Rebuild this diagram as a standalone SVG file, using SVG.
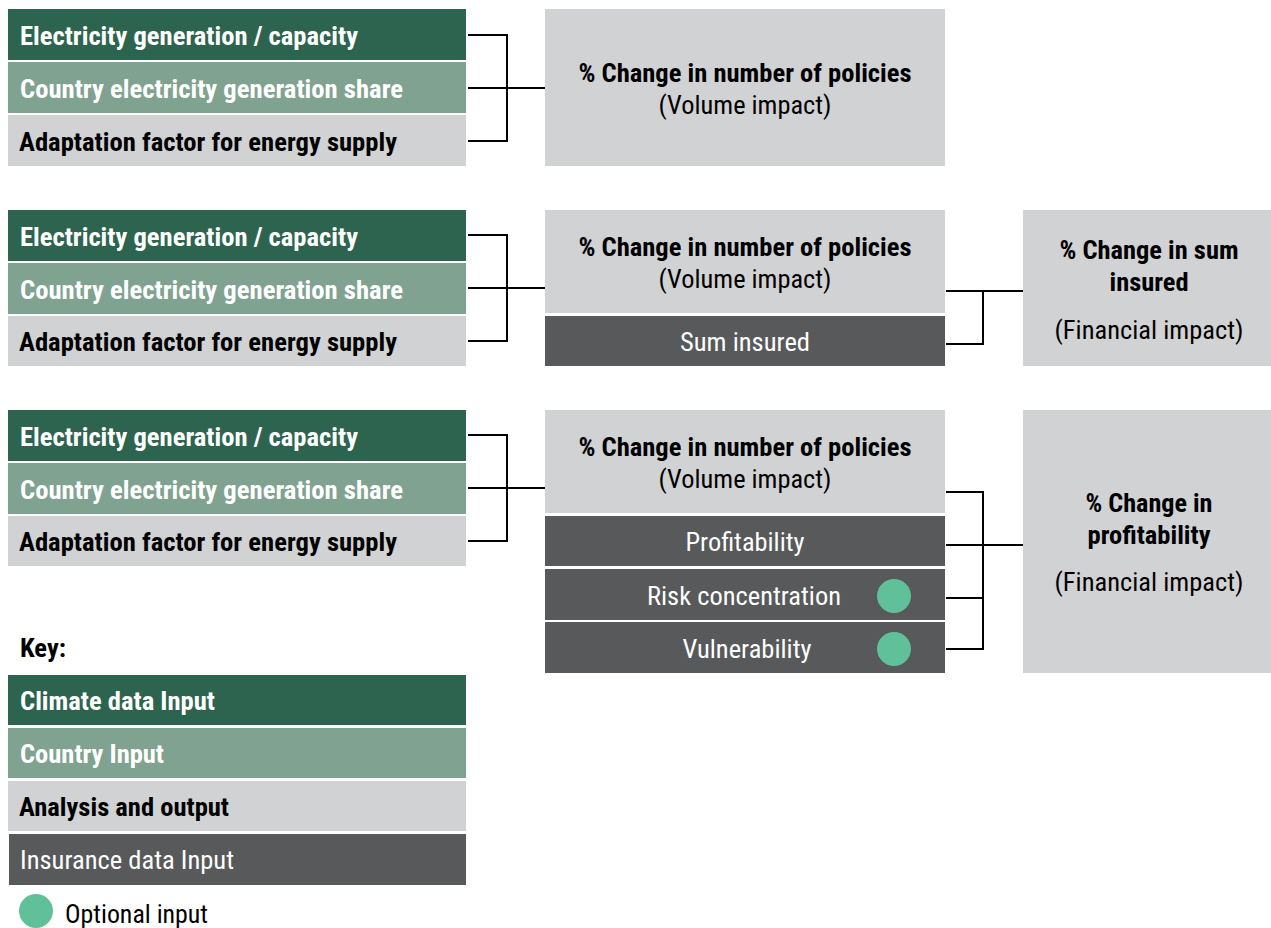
<svg xmlns="http://www.w3.org/2000/svg" width="1271" height="928" viewBox="0 0 1271 928">
<style>
text{font-family:"Roboto Condensed","Roboto","Liberation Sans",sans-serif;font-size:25px}
.b{font-weight:bold}
.w{fill:#ffffff}
.k{fill:#000000}
.m{text-anchor:middle}
.dg{fill:#2d6450}
.lg{fill:#80a291}
.gr{fill:#d1d2d4}
.dk{fill:#58595b}
.opt{fill:#5fc09a}
.c{stroke:#000;stroke-width:2;fill:none}
</style>
<rect width="1271" height="928" fill="#ffffff"/>

<g id="row1-inputs">
<rect class="dg" x="8" y="9" width="458" height="51"/>
<text class="b w" x="20" y="45" textLength="338" lengthAdjust="spacingAndGlyphs">Electricity generation / capacity</text>
<rect class="lg" x="8" y="62" width="458" height="51"/>
<text class="b w" x="20" y="98" textLength="383" lengthAdjust="spacingAndGlyphs">Country electricity generation share</text>
<rect class="gr" x="8" y="115" width="458" height="51"/>
<text class="b k" x="19" y="151" textLength="378" lengthAdjust="spacingAndGlyphs">Adaptation factor for energy supply</text>
</g>
<g id="row1-volume">
<rect class="gr" x="545" y="9" width="400" height="157"/>
<text class="b k m" x="745" y="82" textLength="333" lengthAdjust="spacingAndGlyphs">% Change in number of policies</text>
<text class="k m" x="745" y="114" textLength="173" lengthAdjust="spacingAndGlyphs">(Volume impact)</text>
</g>

<g id="row2-inputs">
<rect class="dg" x="8" y="210" width="458" height="51"/>
<text class="b w" x="20" y="246" textLength="338" lengthAdjust="spacingAndGlyphs">Electricity generation / capacity</text>
<rect class="lg" x="8" y="263" width="458" height="51"/>
<text class="b w" x="20" y="299" textLength="383" lengthAdjust="spacingAndGlyphs">Country electricity generation share</text>
<rect class="gr" x="8" y="316" width="458" height="50"/>
<text class="b k" x="19" y="351" textLength="378" lengthAdjust="spacingAndGlyphs">Adaptation factor for energy supply</text>
</g>
<g id="row2-volume">
<rect class="gr" x="545" y="210" width="400" height="103"/>
<text class="b k m" x="745" y="256" textLength="333" lengthAdjust="spacingAndGlyphs">% Change in number of policies</text>
<text class="k m" x="745" y="288" textLength="173" lengthAdjust="spacingAndGlyphs">(Volume impact)</text>
</g>
<g id="row2-suminsured">
<rect class="dk" x="545" y="316" width="400" height="50"/>
<text class="w m" x="745" y="351" textLength="130" lengthAdjust="spacingAndGlyphs">Sum insured</text>
</g>
<g id="row2-output">
<rect class="gr" x="1023" y="210" width="248" height="156"/>
<text class="b k m" x="1149" y="259" textLength="179" lengthAdjust="spacingAndGlyphs">% Change in sum</text>
<text class="b k m" x="1149" y="291" textLength="79" lengthAdjust="spacingAndGlyphs">insured</text>
<text class="k m" x="1149" y="339" textLength="189" lengthAdjust="spacingAndGlyphs">(Financial impact)</text>
</g>

<g id="row3-inputs">
<rect class="dg" x="8" y="410" width="458" height="51"/>
<text class="b w" x="20" y="446" textLength="338" lengthAdjust="spacingAndGlyphs">Electricity generation / capacity</text>
<rect class="lg" x="8" y="463" width="458" height="51"/>
<text class="b w" x="20" y="499" textLength="383" lengthAdjust="spacingAndGlyphs">Country electricity generation share</text>
<rect class="gr" x="8" y="516" width="458" height="50"/>
<text class="b k" x="19" y="551" textLength="378" lengthAdjust="spacingAndGlyphs">Adaptation factor for energy supply</text>
</g>
<g id="row3-volume">
<rect class="gr" x="545" y="410" width="400" height="103"/>
<text class="b k m" x="745" y="456" textLength="333" lengthAdjust="spacingAndGlyphs">% Change in number of policies</text>
<text class="k m" x="745" y="488" textLength="173" lengthAdjust="spacingAndGlyphs">(Volume impact)</text>
</g>
<g id="row3-profitability">
<rect class="dk" x="545" y="516" width="400" height="50"/>
<text class="w m" x="745" y="551" textLength="119" lengthAdjust="spacingAndGlyphs">Profitability</text>
</g>
<g id="row3-risk">
<rect class="dk" x="545" y="569" width="400" height="51"/>
<text class="w m" x="744" y="605" textLength="194" lengthAdjust="spacingAndGlyphs">Risk concentration</text>
<circle class="opt" cx="894" cy="596" r="17"/>
</g>
<g id="row3-vulnerability">
<rect class="dk" x="545" y="622" width="400" height="51"/>
<text class="w m" x="747" y="658" textLength="129" lengthAdjust="spacingAndGlyphs">Vulnerability</text>
<circle class="opt" cx="894" cy="649" r="17"/>
</g>
<g id="row3-output">
<rect class="gr" x="1023" y="410" width="248" height="263"/>
<text class="b k m" x="1149" y="512" textLength="127" lengthAdjust="spacingAndGlyphs">% Change in</text>
<text class="b k m" x="1149" y="544" textLength="123" lengthAdjust="spacingAndGlyphs">profitability</text>
<text class="k m" x="1149" y="591" textLength="189" lengthAdjust="spacingAndGlyphs">(Financial impact)</text>
</g>

<g id="connectors">
<path class="c" d="M468 35H507V141H468M468 88H545"/>
<path class="c" d="M468 235H507V341H468M468 288H545"/>
<path class="c" d="M946 291H983V344H946M983 291H1023"/>
<path class="c" d="M468 435H507V541H468M468 488H545"/>
<path class="c" d="M946 492H983V649H946M946 545H1023M946 598H983"/>
</g>

<g id="key">
<text class="b k" x="20" y="657" textLength="46" lengthAdjust="spacingAndGlyphs">Key:</text>
<rect class="dg" x="8" y="675" width="458" height="50"/>
<text class="b w" x="20" y="710" textLength="195" lengthAdjust="spacingAndGlyphs">Climate data Input</text>
<rect class="lg" x="8" y="728" width="458" height="50"/>
<text class="b w" x="20" y="763" textLength="144" lengthAdjust="spacingAndGlyphs">Country Input</text>
<rect class="gr" x="8" y="781" width="458" height="50"/>
<text class="b k" x="19" y="816" textLength="210" lengthAdjust="spacingAndGlyphs">Analysis and output</text>
<rect class="dk" x="9" y="834" width="457" height="51"/>
<text class="w" x="20" y="869" textLength="214" lengthAdjust="spacingAndGlyphs">Insurance data Input</text>
<circle class="opt" cx="36" cy="911" r="17"/>
<text class="k" x="65" y="923" fill="#231f20" textLength="143" lengthAdjust="spacingAndGlyphs">Optional input</text>
</g>
</svg>
